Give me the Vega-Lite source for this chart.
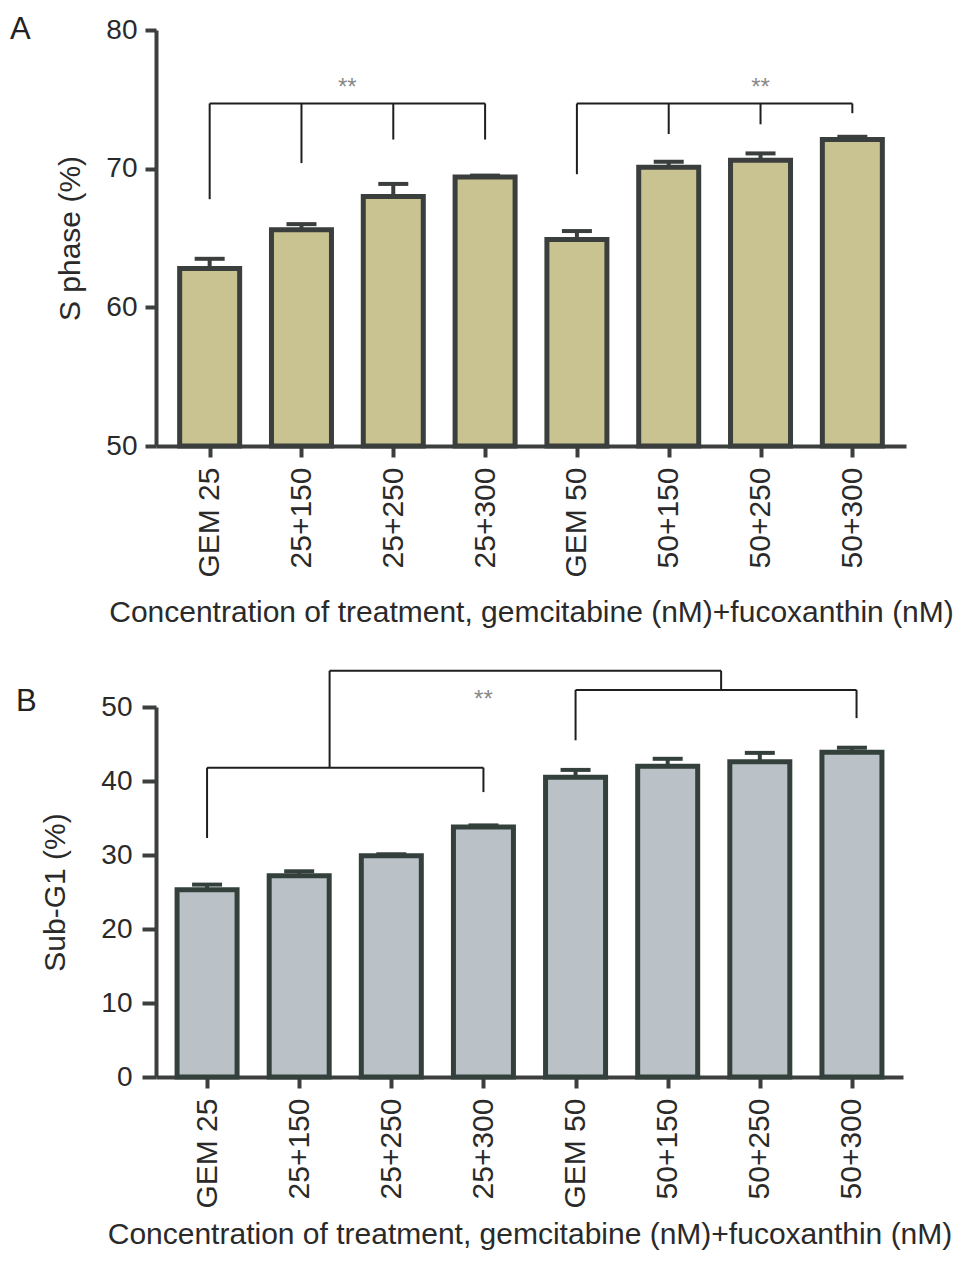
{
  "$schema": "https://vega.github.io/schema/vega-lite/v6.json",
  "padding": {"left": 10, "top": 14, "right": 10, "bottom": 5},
  "background": "white",
  "spacing": 41,
  "config": {
    "font": "Liberation Sans",
    "view": {"stroke": null},
    "axis": {
      "grid": false,
      "labelFont": "Liberation Sans",
      "titleFont": "Liberation Sans",
      "labelFontSize": 28,
      "titleFontSize": 30,
      "titleFontWeight": "normal",
      "labelColor": "#2a2a2a",
      "titleColor": "#2a2a2a",
      "domainColor": "#3c3f3e",
      "domainWidth": 4,
      "tickColor": "#3c3f3e",
      "tickWidth": 4,
      "tickSize": 11
    },
    "title": {"font": "Liberation Sans", "fontSize": 31, "fontWeight": "normal", "color": "#222"}
  },
  "datasets": {
    "sphase": [
      {"pos": 1, "group": "GEM 25", "value": 62.8, "upper": 63.5},
      {"pos": 2, "group": "25+150", "value": 65.6, "upper": 66.0},
      {"pos": 3, "group": "25+250", "value": 68.0, "upper": 68.9},
      {"pos": 4, "group": "25+300", "value": 69.4, "upper": 69.5},
      {"pos": 5, "group": "GEM 50", "value": 64.9, "upper": 65.5},
      {"pos": 6, "group": "50+150", "value": 70.1, "upper": 70.5},
      {"pos": 7, "group": "50+250", "value": 70.6, "upper": 71.1},
      {"pos": 8, "group": "50+300", "value": 72.1, "upper": 72.3}
    ],
    "subg1": [
      {"pos": 1, "group": "GEM 25", "value": 25.3, "upper": 26.0},
      {"pos": 2, "group": "25+150", "value": 27.2, "upper": 27.8},
      {"pos": 3, "group": "25+250", "value": 29.9, "upper": 30.1},
      {"pos": 4, "group": "25+300", "value": 33.8, "upper": 34.0},
      {"pos": 5, "group": "GEM 50", "value": 40.5, "upper": 41.5},
      {"pos": 6, "group": "50+150", "value": 42.0, "upper": 43.0},
      {"pos": 7, "group": "50+250", "value": 42.6, "upper": 43.8},
      {"pos": 8, "group": "50+300", "value": 43.9, "upper": 44.5}
    ],
    "bracketsA": [
      {"x": 1, "x2": 4, "y": 74.7, "y2": 74.7},
      {"x": 1, "x2": 1, "y": 74.7, "y2": 67.8},
      {"x": 2, "x2": 2, "y": 74.7, "y2": 70.4},
      {"x": 3, "x2": 3, "y": 74.7, "y2": 72.1},
      {"x": 4, "x2": 4, "y": 74.7, "y2": 72.1},
      {"x": 5, "x2": 8, "y": 74.7, "y2": 74.7},
      {"x": 5, "x2": 5, "y": 74.7, "y2": 69.6},
      {"x": 6, "x2": 6, "y": 74.7, "y2": 72.5},
      {"x": 7, "x2": 7, "y": 74.7, "y2": 73.2},
      {"x": 8, "x2": 8, "y": 74.7, "y2": 74.0}
    ],
    "starsA": [
      {"x": 2.5, "y": 76.1, "label": "**"},
      {"x": 7, "y": 76.1, "label": "**"}
    ],
    "bracketsB": [
      {"x": 1, "x2": 4, "y": 41.8, "y2": 41.8},
      {"x": 1, "x2": 1, "y": 41.8, "y2": 32.3},
      {"x": 4, "x2": 4, "y": 41.8, "y2": 38.5},
      {"x": 2.33, "x2": 2.33, "y": 41.8, "y2": 54.9},
      {"x": 2.33, "x2": 6.58, "y": 54.9, "y2": 54.9},
      {"x": 6.58, "x2": 6.58, "y": 54.9, "y2": 52.3},
      {"x": 5, "x2": 8.05, "y": 52.3, "y2": 52.3},
      {"x": 5, "x2": 5, "y": 52.3, "y2": 45.5},
      {"x": 8.05, "x2": 8.05, "y": 52.3, "y2": 48.5}
    ],
    "starsB": [
      {"x": 4, "y": 51.8, "label": "**"}
    ]
  },
  "vconcat": [
    {
      "title": {"text": "A", "anchor": "start", "frame": "group", "dx": -146, "offset": -30},
      "width": 750,
      "height": 416,
      "layer": [
        {
          "data": {"name": "sphase"},
          "mark": {"type": "bar", "width": 60, "fill": "#c8c390", "stroke": "#3a3e3c", "strokeWidth": 5},
          "encoding": {
            "x": {
              "field": "pos", "type": "quantitative",
              "scale": {"domain": [0.47, 8.53], "nice": false, "zero": false},
              "axis": {
                "values": [1, 2, 3, 4, 5, 6, 7, 8],
                "labelExpr": "['GEM 25','25+150','25+250','25+300','GEM 50','50+150','50+250','50+300'][datum.value - 1]",
                "labelAngle": -90, "labelAlign": "right", "labelBaseline": "middle",
                "labelFontSize": 30, "labelPadding": 10, "titlePadding": 20,
                "title": "Concentration of treatment, gemcitabine (nM)+fucoxanthin (nM)"
              }
            },
            "y": {
              "field": "value", "type": "quantitative",
              "scale": {"domain": [50, 80], "nice": false, "zero": false},
              "axis": {"values": [50, 60, 70, 80], "labelPadding": 8, "titlePadding": 20, "title": "S phase (%)"}
            },
            "y2": {"datum": 50}
          }
        },
        {
          "data": {"name": "sphase"},
          "mark": {"type": "rule", "stroke": "#3a3e3c", "strokeWidth": 4},
          "encoding": {
            "x": {"field": "pos", "type": "quantitative"},
            "y": {"field": "value", "type": "quantitative"},
            "y2": {"field": "upper"}
          }
        },
        {
          "data": {"name": "sphase"},
          "mark": {"type": "tick", "orient": "horizontal", "size": 30, "thickness": 4, "color": "#3a3e3c", "opacity": 1},
          "encoding": {
            "x": {"field": "pos", "type": "quantitative"},
            "y": {"field": "upper", "type": "quantitative"}
          }
        },
        {
          "data": {"name": "bracketsA"},
          "mark": {"type": "rule", "stroke": "#1e1e1e", "strokeWidth": 2},
          "encoding": {
            "x": {"field": "x", "type": "quantitative"},
            "x2": {"field": "x2"},
            "y": {"field": "y", "type": "quantitative"},
            "y2": {"field": "y2"}
          }
        },
        {
          "data": {"name": "starsA"},
          "mark": {"type": "text", "fontSize": 24, "color": "#8a8a8a", "baseline": "middle", "dy": 4},
          "encoding": {
            "x": {"field": "x", "type": "quantitative"},
            "y": {"field": "y", "type": "quantitative"},
            "text": {"field": "label"}
          }
        }
      ]
    },
    {
      "title": {"text": "B", "anchor": "start", "frame": "group", "dx": -140, "offset": -48},
      "width": 747,
      "height": 370,
      "layer": [
        {
          "data": {"name": "subg1"},
          "mark": {"type": "bar", "width": 60, "fill": "#bac2c8", "stroke": "#34403b", "strokeWidth": 5},
          "encoding": {
            "x": {
              "field": "pos", "type": "quantitative",
              "scale": {"domain": [0.5, 8.5], "nice": false, "zero": false},
              "axis": {
                "values": [1, 2, 3, 4, 5, 6, 7, 8],
                "labelExpr": "['GEM 25','25+150','25+250','25+300','GEM 50','50+150','50+250','50+300'][datum.value - 1]",
                "labelAngle": -90, "labelAlign": "right", "labelBaseline": "middle",
                "labelFontSize": 30, "labelPadding": 10, "titlePadding": 11,
                "title": "Concentration of treatment, gemcitabine (nM)+fucoxanthin (nM)"
              }
            },
            "y": {
              "field": "value", "type": "quantitative",
              "scale": {"domain": [0, 50], "nice": false},
              "axis": {"values": [0, 10, 20, 30, 40, 50], "tickSize": 14, "labelPadding": 10, "titlePadding": 30, "title": "Sub-G1 (%)"}
            },
            "y2": {"datum": 0}
          }
        },
        {
          "data": {"name": "subg1"},
          "mark": {"type": "rule", "stroke": "#34403b", "strokeWidth": 4},
          "encoding": {
            "x": {"field": "pos", "type": "quantitative"},
            "y": {"field": "value", "type": "quantitative"},
            "y2": {"field": "upper"}
          }
        },
        {
          "data": {"name": "subg1"},
          "mark": {"type": "tick", "orient": "horizontal", "size": 30, "thickness": 4, "color": "#34403b", "opacity": 1},
          "encoding": {
            "x": {"field": "pos", "type": "quantitative"},
            "y": {"field": "upper", "type": "quantitative"}
          }
        },
        {
          "data": {"name": "bracketsB"},
          "mark": {"type": "rule", "stroke": "#1e1e1e", "strokeWidth": 2},
          "encoding": {
            "x": {"field": "x", "type": "quantitative"},
            "x2": {"field": "x2"},
            "y": {"field": "y", "type": "quantitative"},
            "y2": {"field": "y2"}
          }
        },
        {
          "data": {"name": "starsB"},
          "mark": {"type": "text", "fontSize": 24, "color": "#8a8a8a", "baseline": "middle", "dy": 6},
          "encoding": {
            "x": {"field": "x", "type": "quantitative"},
            "y": {"field": "y", "type": "quantitative"},
            "text": {"field": "label"}
          }
        }
      ]
    }
  ]
}
